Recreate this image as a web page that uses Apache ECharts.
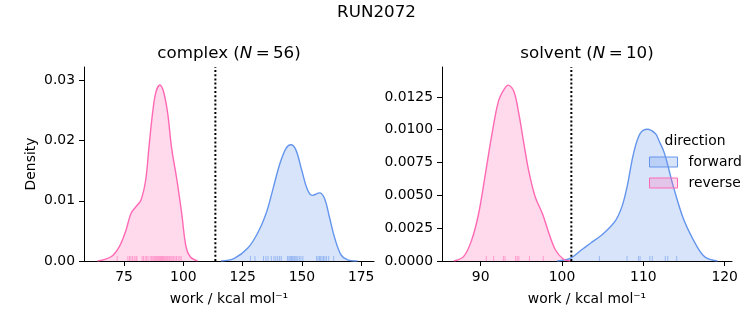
<!DOCTYPE html>
<html>
<head>
<meta charset="utf-8">
<script src="https://cdn.jsdelivr.net/npm/echarts@6/dist/echarts.min.js"></script>
<style>html,body{margin:0;padding:0;background:#fff;}#c{width:753px;height:325px;}</style>
</head>
<body>
<div id="c"></div>
<script>
// ---- data ----
const complexReverseX = [63.8, 69.5, 73.0, 75.8, 77.9, 80.0, 82.1, 84.1, 85.5, 87.0, 88.4, 90.1, 91.7, 93.4, 95.0, 97.3, 99.3, 101.1, 102.9, 106.0];
const complexReverseY = [0, 0.0007, 0.0024, 0.0051, 0.0079, 0.0090, 0.0101, 0.0134, 0.0189, 0.0245, 0.0280, 0.0292, 0.0280, 0.0245, 0.0189, 0.0134, 0.0079, 0.0024, 0.0007, 0];
const complexForwardX = [115.9, 121.5, 127.1, 131.3, 134.9, 137.7, 140.5, 143.3, 145.4, 147.5, 149.9, 152.4, 154.5, 157.4, 159.5, 161.6, 163.7, 166.5, 169.3, 173.5];
const complexForwardY = [0, 0.00045, 0.0021, 0.0046, 0.0079, 0.0118, 0.0159, 0.0187, 0.0193, 0.0184, 0.0151, 0.0118, 0.0109, 0.0113, 0.0104, 0.0073, 0.0040, 0.0010, 0.0002, 0];
const solventReverseX = [86.7, 87.9, 88.9, 89.75, 90.6, 91.4, 92.2, 92.9, 93.4, 94.1, 94.7, 95.3, 95.9, 96.7, 97.6, 98.4, 99.2, 100.2, 101.0];
const solventReverseY = [0, 0.00033, 0.0016, 0.0036, 0.0067, 0.0097, 0.0122, 0.0131, 0.0134, 0.0129, 0.0112, 0.0090, 0.0069, 0.0049, 0.0036, 0.0021, 0.00084, 0.00013, 0];
const solventForwardX = [99.4, 101.0, 102.3, 103.5, 105.1, 106.6, 107.4, 108.0, 108.8, 109.6, 110.5, 111.5, 111.9, 112.6, 113.7, 115.0, 116.6, 117.6, 119.1];
const solventForwardY = [0, 0.0002, 0.0008, 0.00135, 0.0021, 0.0031, 0.0042, 0.00565, 0.0082, 0.0097, 0.01004, 0.0097, 0.0092, 0.0082, 0.00565, 0.0031, 0.0011, 0.0003, 0];

const complexReverseRug = [72.1, 76.6, 77.3, 77.9, 78.6, 79.3, 80.0, 80.4, 82.6, 83.2, 83.9, 84.5, 85.1, 86.0, 86.6, 87.1, 87.6, 88.0, 88.4, 88.8, 89.2, 89.6, 90.0, 90.4, 90.8, 91.2, 91.6, 92.0, 92.5, 93.0, 93.4, 93.9, 94.3, 94.8, 95.3, 95.9, 96.5, 97.1, 97.8, 98.5, 99.1];
const complexForwardRug = [128.3, 130.2, 133.8, 134.8, 135.7, 137.1, 138.2, 139.0, 139.8, 140.6, 141.3, 143.9, 144.5, 145.0, 145.4, 145.8, 146.2, 146.7, 147.1, 147.6, 148.2, 148.9, 149.6, 150.4, 156.2, 156.8, 157.4, 157.9, 158.5, 159.1, 159.7, 160.4, 161.3, 163.4];
const solventReverseRug = [90.7, 91.6, 92.8, 93.0, 94.3, 94.5, 94.7, 96.0, 97.7];
const solventForwardRug = [104.6, 108.0, 109.4, 109.6, 110.8, 111.1, 112.7, 113.0, 114.1];

const complexCutoff = 113.5;
const solventCutoff = 101.15;

const complexTicksX = [75, 100, 125, 150, 175];
const solventTicksX = [90, 100, 110, 120];
const complexTicksY = [0, 0.01, 0.02, 0.03];
const solventTicksY = [0, 0.0025, 0.005, 0.0075, 0.01, 0.0125];

const mainTitle = 'RUN2072';
const complexTitle = 'complex ({i|N}\u2009=\u200956)';
const solventTitle = 'solvent ({i|N}\u2009=\u200910)';
const xName = 'work / kcal mol\u207B\u00B9';
const yName = 'Density';

// ---- styles ----
const FONT = 'DejaVu Sans';
const BLUE = '#6495ED';
const PINK = '#FF69B4';

function pairs(xs, ys) { return xs.map((x, i) => [x, ys[i]]); }

function xAxis(gi, min, max, ticks) {
  return {
    type: 'value', gridIndex: gi, min: min, max: max,
    name: xName, nameLocation: 'middle', nameGap: 31,
    nameTextStyle: {fontFamily: FONT, fontSize: 13.9, color: '#000'},
    axisLine: {show: true, onZero: false, lineStyle: {color: '#000', width: 1}},
    axisTick: {show: true, length: 5, customValues: ticks, lineStyle: {color: '#000', width: 1}},
    axisLabel: {customValues: ticks, margin: 9, fontFamily: FONT, fontSize: 13.9, color: '#000'},
    splitLine: {show: false}
  };
}
function yAxis(gi, max, ticks, digits, name) {
  return {
    type: 'value', gridIndex: gi, min: 0, max: max,
    name: name || '', nameLocation: 'middle', nameGap: 46,
    nameTextStyle: {fontFamily: FONT, fontSize: 13.9, color: '#000'},
    axisLine: {show: true, lineStyle: {color: '#000', width: 1}},
    axisTick: {show: true, length: 5, customValues: ticks, lineStyle: {color: '#000', width: 1}},
    axisLabel: {customValues: ticks, margin: 9, fontFamily: FONT, fontSize: 13.9, color: '#000',
      formatter: v => Number(v).toFixed(digits)},
    splitLine: {show: false}
  };
}
function kde(name, gi, xs, ys, color) {
  return {
    type: 'line', name: name, xAxisIndex: gi, yAxisIndex: gi,
    data: pairs(xs, ys), smooth: 0.35, showSymbol: false, symbol: 'none', sampling: null,
    lineStyle: {color: color, width: 1.4}, itemStyle: {color: color},
    areaStyle: {color: color, opacity: 0.25}, silent: true, z: 2
  };
}
function rug(name, gi, vals, color) {
  return {
    type: 'scatter', name: name, xAxisIndex: gi, yAxisIndex: gi,
    data: vals.map(v => [v, 0]), symbol: 'rect', symbolSize: [1, 5], symbolOffset: [0, -2.5],
    itemStyle: {color: color, opacity: 0.55}, silent: true, z: 3
  };
}
function cutoff(gi, x, ymax) {
  return {
    type: 'line', xAxisIndex: gi, yAxisIndex: gi, data: [[x, 0], [x, ymax]],
    showSymbol: false, symbol: 'none', silent: true, z: 4,
    lineStyle: {color: '#000', width: 2, type: [2, 2.2]}
  };
}

const chart = echarts.init(document.getElementById('c'), null, {renderer: 'canvas'});
chart.setOption({
  animation: false,
  backgroundColor: '#fff',
  grid: [
    {left: 84, top: 67, width: 290, height: 194},
    {left: 442, top: 67, width: 290, height: 194}
  ],
  xAxis: [xAxis(0, 58.1, 180.4, complexTicksX), xAxis(1, 85.25, 120.9, solventTicksX)],
  yAxis: [yAxis(0, 0.0322, complexTicksY, 2, yName), yAxis(1, 0.01478, solventTicksY, 4)],
  legend: {
    orient: 'vertical', left: 649, top: 155, padding: 0, itemWidth: 28, itemHeight: 10, itemGap: 7,
    icon: 'rect', selectedMode: false,
    formatter: name => '{g|}' + name,
    textStyle: {fontFamily: FONT, fontSize: 13.9, color: '#000', lineHeight: 14,
      rich: {g: {width: 6}}},
    data: [
      {name: 'forward', icon: 'rect', itemStyle: {color: 'rgba(100,149,237,0.25)', borderColor: BLUE, borderWidth: 1}},
      {name: 'reverse', icon: 'rect', itemStyle: {color: 'rgba(255,105,180,0.25)', borderColor: PINK, borderWidth: 1}}
    ]
  },
  graphic: [
    {type: 'text', x: 376.5, y: 12.5, style: {text: mainTitle, fontFamily: FONT, fontSize: 16.7, fill: '#000', align: 'center', verticalAlign: 'middle'}},
    {type: 'text', x: 229, y: 54, style: {text: complexTitle, rich: {i: {fontStyle: 'italic', fontFamily: FONT, fontSize: 16.7}}, fontFamily: FONT, fontSize: 16.7, fill: '#000', align: 'center', verticalAlign: 'middle'}},
    {type: 'text', x: 587, y: 54, style: {text: solventTitle, rich: {i: {fontStyle: 'italic', fontFamily: FONT, fontSize: 16.7}}, fontFamily: FONT, fontSize: 16.7, fill: '#000', align: 'center', verticalAlign: 'middle'}},
    {type: 'text', x: 695, y: 141, style: {text: 'direction', fontFamily: FONT, fontSize: 13.9, fill: '#000', align: 'center', verticalAlign: 'middle'}}
  ],
  series: [
    kde('reverse', 0, complexReverseX, complexReverseY, PINK),
    kde('forward', 0, complexForwardX, complexForwardY, BLUE),
    kde('forward', 1, solventForwardX, solventForwardY, BLUE),
    kde('reverse', 1, solventReverseX, solventReverseY, PINK),
    rug('reverse', 0, complexReverseRug, PINK),
    rug('forward', 0, complexForwardRug, BLUE),
    rug('reverse', 1, solventReverseRug, PINK),
    rug('forward', 1, solventForwardRug, BLUE),
    cutoff(0, complexCutoff, 0.0322),
    cutoff(1, solventCutoff, 0.01478)
  ]
});
</script>
</body>
</html>
